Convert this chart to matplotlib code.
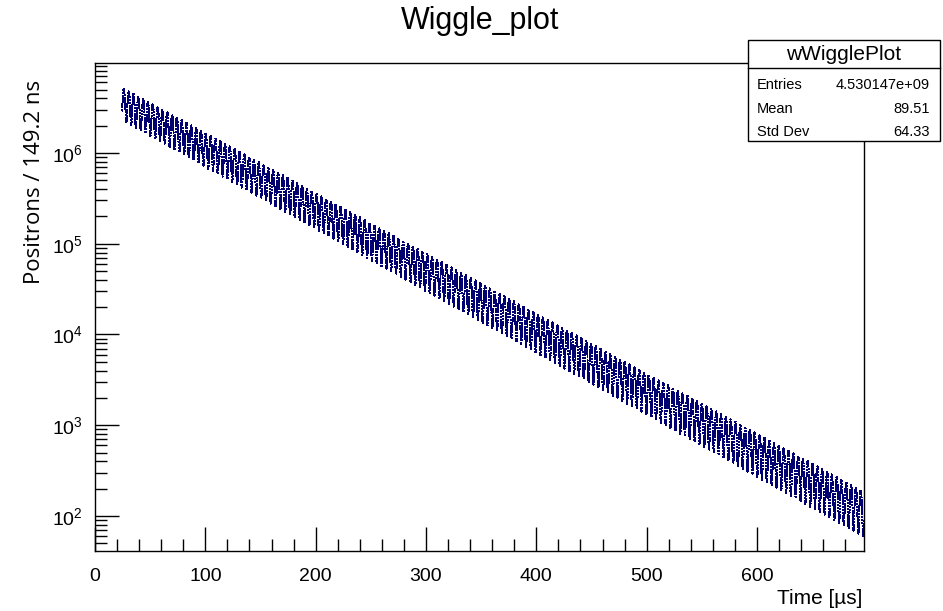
import numpy as np
import matplotlib
matplotlib.use("Agg")
import matplotlib.pyplot as plt
from matplotlib.patches import Rectangle
from matplotlib.lines import Line2D
from matplotlib.ticker import FixedLocator, FixedFormatter, MultipleLocator, LogLocator, NullFormatter

# ---- values ----
env_time = [25, 100, 200, 300, 400, 500, 600, 697]            # µs
env_upper = [5.2e6, 1.66e6, 3.6e5, 7.8e4, 1.7e4, 3.7e3, 810, 184]
env_lower = [2.3e6, 7.0e5, 1.46e5, 3.0e4, 6.3e3, 1.3e3, 270, 59]
bin_width = 0.1492      # µs  (149.2 ns)
wiggle_period = 4.365   # µs
t_start, t_end = 24.6, 697.0

x_ticks = [0, 100, 200, 300, 400, 500, 600]
x_ticklabels = ["0", "100", "200", "300", "400", "500", "600"]
y_ticks = [1e2, 1e3, 1e4, 1e5, 1e6]
y_ticklabels = [r"$10^{2}$", r"$10^{3}$", r"$10^{4}$", r"$10^{5}$", r"$10^{6}$"]

stats_title = "wWigglePlot"
stats_labels = ["Entries", "Mean", "Std Dev"]
stats_values = ["4.530147e+09", "89.51", "64.33"]

title = "Wiggle_plot"
xlabel = "Time [µs]"
ylabel = "Positrons / 149.2 ns"

# ---- style ----
plt.rcParams["font.family"] = ["Liberation Sans", "DejaVu Sans"]
plt.rcParams["mathtext.fontset"] = "custom"
plt.rcParams["mathtext.rm"] = "Liberation Sans"
plt.rcParams["mathtext.it"] = "Liberation Sans:italic"
plt.rcParams["mathtext.bf"] = "Liberation Sans:bold"

W, H = 943, 611
fig = plt.figure(figsize=(W / 100, H / 100), dpi=100)
fig.patch.set_facecolor("white")

ax_l, ax_r, ax_t, ax_b = 95, 864, 63, 551
ax = fig.add_axes([ax_l / W, 1 - ax_b / H, (ax_r - ax_l) / W, (ax_b - ax_t) / H])

# histogram contents built from the read envelopes and wiggle period
edges = np.arange(t_start, t_end + bin_width / 2, bin_width)
centers = 0.5 * (edges[1:] + edges[:-1])
U = 10 ** np.interp(centers, env_time, np.log10(env_upper))
L = 10 ** np.interp(centers, env_time, np.log10(env_lower))
phase = 0.5 * (1 + np.cos(2 * np.pi * centers / wiggle_period))
values = L + (U - L) * phase

ax.stairs(values, edges, color="#000070", lw=0.85, baseline=None,
          antialiased=False, linestyle=(0, (1.2, 0.9)))

ax.set_yscale("log")
ax.set_xlim(0, 697)
ax.set_ylim(41.1, 9.81e6)

ax.xaxis.set_major_locator(FixedLocator(x_ticks))
ax.xaxis.set_major_formatter(FixedFormatter(x_ticklabels))
ax.xaxis.set_minor_locator(MultipleLocator(20))
ax.yaxis.set_major_locator(FixedLocator(y_ticks))
ax.yaxis.set_major_formatter(FixedFormatter(y_ticklabels))
ax.yaxis.set_minor_locator(LogLocator(base=10, subs=np.arange(2, 10), numticks=50))
ax.yaxis.set_minor_formatter(NullFormatter())

ax.tick_params(which="both", direction="in", top=False, right=False, width=1.0, color="black")
ax.tick_params(which="major", length=17)
ax.tick_params(which="minor", length=8.5)
ax.tick_params(axis="x", which="major", labelsize=14, pad=12)
ax.tick_params(axis="y", which="major", labelsize=14, pad=9)
for s in ax.spines.values():
    s.set_linewidth(1.0)
    s.set_color("black")

# titles
fig.text(480 / W, 1 - 21 / H, title, ha="center", va="center", fontsize=22)
fig.text(862 / W, 1 - 598 / H, xlabel, ha="right", va="center", fontsize=15)
fig.text(35 / W, 1 - 80 / H, ylabel, ha="center", va="top", rotation=90,
         fontsize=16, family=["Open Sans", "DejaVu Sans"])

# stats box
bx0, bx1, by0, by1, bdiv = 748, 940, 40, 141, 68
rect = Rectangle((bx0 / W, 1 - by1 / H), (bx1 - bx0) / W, (by1 - by0) / H,
                 transform=fig.transFigure, facecolor="white", edgecolor="black",
                 lw=1.0, zorder=10)
fig.add_artist(rect)
fig.add_artist(Line2D([bx0 / W, bx1 / W], [1 - bdiv / H, 1 - bdiv / H],
                      transform=fig.transFigure, color="black", lw=1.0, zorder=11))
fig.text((bx0 + bx1) / 2 / W, 1 - 54 / H, stats_title, ha="center", va="center",
         fontsize=15, zorder=12)
row_y = [85, 109, 132]
for lab, val, yy in zip(stats_labels, stats_values, row_y):
    fig.text(757 / W, 1 - yy / H, lab, ha="left", va="center", fontsize=10.5, zorder=12)
    fig.text(930 / W, 1 - yy / H, val, ha="right", va="center", fontsize=10.5, zorder=12)

fig.savefig("out.png", dpi=100)
